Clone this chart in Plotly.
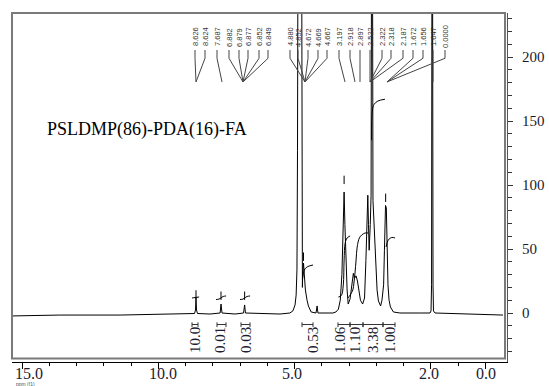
import plotly.graph_objects as go

# ---------------- data ----------------
# 1H NMR trace: chemical shift (ppm, on the drawn axis) and intensity
ppm = [15.37, 13.61, 11.40, 9.02, 8.67, 8.633, 8.615, 8.596, 8.56, 8.10,
       7.73, 7.697, 7.66, 7.18, 6.87, 6.83, 6.80, 5.53, 5.17,
       5.06, 4.98, 4.94, 4.91, 4.89, 4.87, 4.74, 4.725, 4.71, 4.70, 4.67, 4.64,
       4.60, 4.54, 4.49, 4.39, 4.21, 4.17, 4.14, 3.59,
       3.48, 3.39, 3.32, 3.26, 3.21, 3.18, 3.15, 3.11, 3.07, 3.03,
       2.96, 2.91, 2.84, 2.80, 2.74, 2.69, 2.63, 2.58, 2.50,
       2.43, 2.38, 2.34, 2.31, 2.285, 2.26, 2.22, 2.19, 2.17, 2.14, 2.12,
       2.08, 2.05, 2.01, 1.97, 1.92, 1.84,
       1.79, 1.73, 1.70, 1.66, 1.63, 1.60, 1.57, 1.53, 1.48, 1.37, 1.13, 0.39,
       0.028, -0.01, -0.03, -0.046, -0.064, -0.083, -0.10, -0.156, -1.44, -2.65]
intensity = [-2.3, -1.6, -1.6, -0.8, -0.4, 2.3, 12.5, 2.3, -0.4, -0.8,
             0.0, 7.0, 0.0, -0.8, 0.0, 6.3, 0.0, -0.8, 0.0,
             1.6, 6.3, 14.0, 33.6, 127, 322, 322, 127, 20, 30, 39, 30,
             18, 10, 5.5, 0.8, 0.0, 5.5, 0.0, 0.0,
             0.8, 3.0, 10, 30, 69, 94.5, 69, 37.5, 18, 7,
             11, 19.5, 31, 27, 29, 25, 16.4, 10, 7,
             11.7, 41, 76.5, 92, 69, 49, 69, 92, 322, 322, 88,
             71, 60, 37.5, 18, 9.4, 5.5,
             10, 22, 49, 84, 82, 49, 22, 10, 4.7, 0.8, 0.0, 0.0,
             0.0, 1.6, 22, 322, 322, 22, 1.6, 0.0, -0.8, -1.6]

# integral curves (one small list per integrated region)
int_ppm = [
    [8.76, 8.65, 8.50],
    [7.88, 7.77, 7.70, 7.62, 7.51],
    [7.00, 6.89, 6.83, 6.74, 6.63],
    [4.71, 4.67, 4.62, 4.51, 4.32],
    [3.39, 3.28, 3.21, 3.18, 3.14, 3.07, 2.96],
    [3.04, 2.96, 2.86, 2.82, 2.78, 2.74, 2.70, 2.62, 2.53, 2.41, 2.30],
    [2.17, 2.14, 2.08, 1.94, 1.68],
    [1.64, 1.56, 1.43, 1.31],
]
int_val = [
    [11.7, 12.1, 12.5],
    [10.5, 10.9, 11.7, 12.9, 13.3],
    [10.5, 10.9, 11.7, 12.9, 13.3],
    [25.8, 31.0, 34.4, 36.3, 37.5],
    [12.5, 13.7, 21.9, 41.4, 54.7, 58.6, 60.2],
    [11.7, 14.0, 18.0, 23.4, 31.3, 41.4, 51.6, 58.6, 61.0, 62.5, 62.5],
    [135, 158.6, 163, 165.6, 167],
    [51.6, 57.0, 59.0, 58.6],
]

# integral values and their regions
int_labels = ["10.0", "0.01", "0.03", "0.53", "1.06", "1.10", "3.38", "1.00"]
int_from = [8.761, 7.844, 6.963, 4.725, 3.404, 2.963, 2.486, 1.752]
int_to = [8.541, 7.514, 6.633, 4.321, 2.963, 2.486, 1.752, 1.312]

# peak-pick markers (ppm, height)
pick_ppm = [8.615, 7.697, 6.83, 4.67, 3.18, 1.655]
pick_val = [14.5, 13.5, 13.5, 44, 104, 90]

# peak labels and the peak each one points at
peak_labels = ["8.626", "8.624", "7.687", "6.882", "6.879", "6.877", "6.852", "6.849",
               "4.880", "4.852", "4.672", "4.669", "4.667", "3.197", "2.918", "2.897",
               "2.522", "2.322", "2.318", "2.187", "1.672", "1.656", "1.647", "0.0000"]
peak_targets = [8.615, 8.615, 7.661, 6.89, 6.89, 6.89, 6.89, 6.89,
                4.615, 4.615, 4.615, 4.615, 4.615, 3.147, 2.78, 2.596,
                2.229, 2.229, 2.229, 2.229, 1.606, 1.606, -0.083, 1.606]

x_tick_vals = [15, 10, 5, 0, -2]
x_tick_text = ["15.0", "10.0", "5.0", "2.0", "0.0"]
y_tick_vals = [0, 50, 100, 150, 200]

title_text = "PSLDMP(86)-PDA(16)-FA"

# ---------------- layout positions (ppm along the drawn axis) ----------------
label_x = [8.651, 8.284, 7.844, 7.404, 7.037, 6.706, 6.303, 5.972,
           5.165, 4.872, 4.505, 4.138, 3.807, 3.367, 2.963, 2.596,
           2.229, 1.789, 1.459, 1.018, 0.651, 0.284, -0.083, -0.523]
int_text_x = [8.651, 7.734, 6.780, 4.321, 3.330, 2.780, 2.119, 1.495]
x_label_pos = [14.743, 9.826, 5.09, 0.06, -2.03]

XR = [15.367, -2.798]
YR = [-38.28, 234.375]
SERIF = "Liberation Serif"
TXT = "#1c1c30"

fig = go.Figure()
fig.add_trace(go.Scatter(x=ppm, y=intensity, mode="lines",
                         line=dict(color="black", width=1), hoverinfo="skip"))
for xs, ys in zip(int_ppm, int_val):
    fig.add_trace(go.Scatter(x=xs, y=ys, mode="lines", line=dict(color="black", width=1),
                             line_shape="spline", hoverinfo="skip"))
fig.add_trace(go.Scatter(x=pick_ppm, y=pick_val, mode="markers",
                         marker=dict(symbol="line-ns", size=6, line=dict(width=1, color="black")),
                         hoverinfo="skip"))

shapes = []
# frame
shapes.append(dict(type="rect", xref="paper", yref="paper", x0=0, x1=0.996, y0=0.01, y1=1,
                   line=dict(color="#7a7a7a", width=2)))
# integral brackets
for a, b in zip(int_from, int_to):
    shapes.append(dict(type="line", xref="x", yref="y", x0=a, x1=b, y0=-9, y1=-9,
                       line=dict(color="#333", width=1)))
    for e in (a, b):
        shapes.append(dict(type="line", xref="x", yref="y", x0=e, x1=e, y0=-7.3, y1=-11,
                           line=dict(color="#333", width=1)))
# peak label leader lines
for lx, tx in zip(label_x, peak_targets):
    shapes.append(dict(type="path", xref="x", yref="y",
                       path=f"M {lx},205.5 L {lx},199 L {tx},180.5",
                       line=dict(color="#444", width=1)))

ann = []
for t, lx in zip(peak_labels, label_x):
    ann.append(dict(x=lx, y=215.6, xref="x", yref="y", text=t, showarrow=False, textangle=-90,
                    font=dict(family="Liberation Sans", size=7.5, color="#333")))
for t, lx in zip(int_labels, int_text_x):
    ann.append(dict(x=lx, y=-21, xref="x", yref="y", text=t, showarrow=False, textangle=-90,
                    font=dict(family=SERIF, size=15, color=TXT)))
for t, lx in zip(x_tick_text, x_label_pos):
    ann.append(dict(x=lx, y=-0.033, xref="x", yref="paper", yanchor="middle", text=t,
                    showarrow=False, font=dict(family=SERIF, size=16, color=TXT)))
ann.append(dict(x=0.005, y=-0.062, xref="paper", yref="paper", xanchor="left", yanchor="middle",
                text="ppm (f1)", showarrow=False, font=dict(family="Liberation Sans", size=5, color="#555")))
ann.append(dict(x=14.156, y=143, xref="x", yref="y", xanchor="left", yanchor="middle",
                text=title_text, showarrow=False, font=dict(family=SERIF, size=18, color="black")))

fig.update_layout(
    width=549, height=386,
    margin=dict(l=12, r=42, t=13, b=24, autoexpand=False),
    paper_bgcolor="white", plot_bgcolor="white",
    showlegend=False,
    shapes=shapes, annotations=ann,
    xaxis=dict(range=XR, showgrid=False, zeroline=False, showline=True, linecolor="black",
               linewidth=1, ticks="outside", ticklen=6, tickcolor="black", automargin=False,
               tickmode="array", tickvals=x_tick_vals, ticktext=x_tick_text, showticklabels=False,
               minor=dict(tickmode="array", tickvals=list(range(-2, 16)), ticks="outside",
                          ticklen=3, tickcolor="black")),
    yaxis=dict(range=YR, side="right", showgrid=False, zeroline=False, showline=True,
               linecolor="#555", linewidth=1, ticks="outside", ticklen=5, tickcolor="#333",
               tickmode="array", tickvals=y_tick_vals, ticklabelstandoff=6, automargin=False,
               tickfont=dict(family=SERIF, size=15, color=TXT),
               minor=dict(dtick=10, tick0=0, ticks="outside", ticklen=4, tickcolor="#333")),
)

fig.write_html("out.html")
